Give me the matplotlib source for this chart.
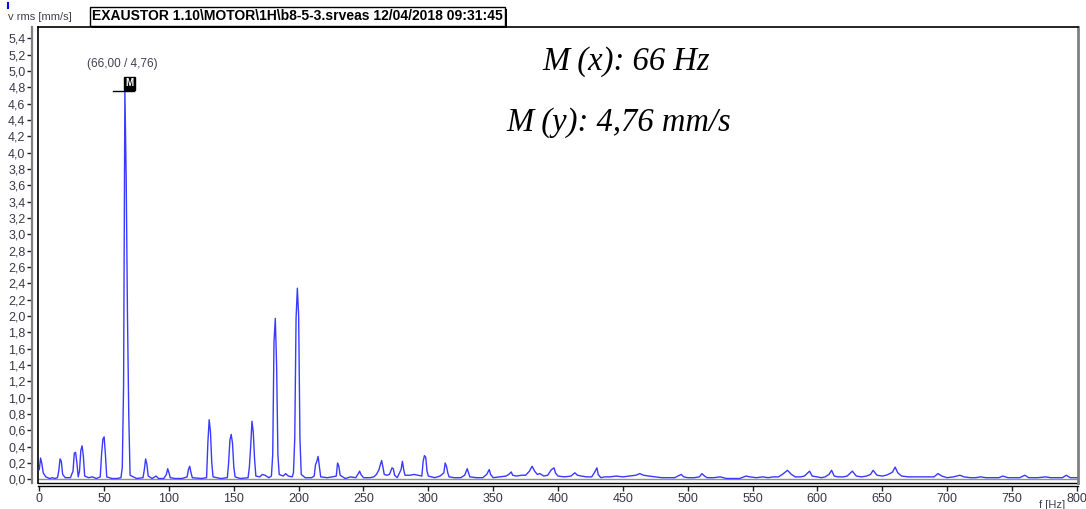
import numpy as np
import matplotlib
matplotlib.use('Agg')
import matplotlib.pyplot as plt
from matplotlib.patheffects import withSimplePatchShadow
from matplotlib.lines import Line2D

# spectrum (frequency in Hz, velocity rms in mm/s)
freq = [0, 1, 2, 3, 5, 8, 10, 12, 14, 15, 16, 17, 18, 20, 24, 26, 27, 28, 29, 30,
        31, 32, 33, 34, 35, 38, 41, 44, 47, 48, 49, 50, 51, 52, 56, 60, 63, 64, 65, 66,
        67, 68, 69, 70, 75, 80, 81, 82, 83, 84, 87, 90, 92, 96, 98, 99, 100, 101, 105, 110,
        114, 115, 116, 117, 118, 125, 129, 130, 131, 132, 133, 134, 140, 145, 146, 147, 148, 149, 150, 151,
        155, 161, 162, 163, 164, 165, 166, 167, 170, 172, 174, 177, 179, 180, 181, 182, 183, 184, 185, 188,
        190, 192, 195, 196, 197, 198, 199, 200, 201, 202, 205, 210, 212, 213, 214, 215, 216, 217, 222, 226,
        229, 230, 231, 232, 236, 240, 244, 246, 247, 248, 250, 255, 258, 260, 262, 263, 264, 265, 266, 268,
        270, 272, 273, 274, 276, 279, 280, 281, 282, 286, 289, 292, 295, 296, 297, 298, 299, 300, 305, 309,
        312, 313, 314, 315, 316, 320, 325, 328, 330, 331, 332, 337, 342, 345, 347, 348, 350, 355, 360, 362,
        364, 365, 368, 372, 375, 378, 380, 382, 384, 386, 389, 392, 395, 397, 398, 400, 405, 410, 413, 415,
        418, 422, 426, 428, 430, 431, 433, 436, 440, 445, 450, 455, 460, 463, 466, 470, 475, 480, 485, 490,
        495, 497, 500, 505, 509, 511, 513, 515, 520, 525, 530, 535, 540, 545, 548, 553, 558, 562, 566, 570,
        573, 577, 580, 583, 587, 590, 594, 596, 600, 603, 606, 609, 611, 613, 616, 620, 623, 627, 630, 634,
        638, 641, 643, 646, 650, 653, 656, 658, 660, 662, 665, 670, 675, 680, 685, 690, 693, 696, 700, 705,
        710, 713, 718, 722, 726, 730, 735, 740, 743, 747, 752, 756, 760, 763, 770, 776, 780, 785, 789, 792,
        795, 800]
amp = [0.12, 0.26, 0.19, 0.08, 0.03, 0.01, 0.02, 0.01, 0.02, 0.10, 0.25, 0.22, 0.06, 0.02, 0.02, 0.10, 0.32, 0.33, 0.20, 0.03,
       0.10, 0.35, 0.41, 0.28, 0.04, 0.02, 0.03, 0.01, 0.03, 0.30, 0.49, 0.52, 0.30, 0.03, 0.01, 0.01, 0.02, 0.15, 1.15, 4.76,
       3.70, 2.00, 0.78, 0.05, 0.01, 0.02, 0.12, 0.25, 0.18, 0.04, 0.01, 0.04, 0.01, 0.01, 0.06, 0.13, 0.08, 0.02, 0.01, 0.01,
       0.03, 0.12, 0.16, 0.08, 0.02, 0.01, 0.02, 0.45, 0.73, 0.58, 0.20, 0.03, 0.01, 0.02, 0.20, 0.48, 0.55, 0.44, 0.15, 0.03,
       0.01, 0.02, 0.15, 0.40, 0.71, 0.58, 0.25, 0.04, 0.03, 0.06, 0.05, 0.02, 0.04, 0.30, 1.69, 1.97, 1.40, 0.30, 0.06, 0.04,
       0.07, 0.04, 0.03, 0.08, 0.50, 1.97, 2.34, 2.00, 0.50, 0.06, 0.02, 0.02, 0.04, 0.18, 0.22, 0.28, 0.15, 0.03, 0.02, 0.03,
       0.04, 0.20, 0.16, 0.05, 0.01, 0.03, 0.02, 0.07, 0.10, 0.06, 0.02, 0.02, 0.03, 0.06, 0.12, 0.18, 0.23, 0.15, 0.06, 0.05,
       0.06, 0.14, 0.13, 0.05, 0.02, 0.12, 0.22, 0.12, 0.05, 0.05, 0.06, 0.05, 0.04, 0.22, 0.29, 0.27, 0.10, 0.04, 0.02, 0.04,
       0.08, 0.20, 0.16, 0.08, 0.03, 0.02, 0.02, 0.05, 0.13, 0.08, 0.03, 0.02, 0.02, 0.06, 0.12, 0.06, 0.02, 0.03, 0.04, 0.06,
       0.09, 0.05, 0.04, 0.05, 0.05, 0.10, 0.16, 0.10, 0.06, 0.07, 0.04, 0.05, 0.12, 0.14, 0.08, 0.04, 0.03, 0.04, 0.08, 0.05,
       0.04, 0.03, 0.03, 0.08, 0.14, 0.06, 0.02, 0.03, 0.03, 0.04, 0.03, 0.04, 0.05, 0.07, 0.05, 0.04, 0.03, 0.02, 0.02, 0.02,
       0.06, 0.03, 0.02, 0.02, 0.03, 0.07, 0.04, 0.02, 0.02, 0.03, 0.01, 0.01, 0.01, 0.04, 0.03, 0.02, 0.03, 0.02, 0.03, 0.03,
       0.06, 0.11, 0.06, 0.03, 0.03, 0.04, 0.10, 0.04, 0.03, 0.02, 0.03, 0.06, 0.11, 0.04, 0.03, 0.03, 0.04, 0.10, 0.04, 0.03,
       0.04, 0.06, 0.11, 0.05, 0.04, 0.05, 0.07, 0.09, 0.15, 0.08, 0.04, 0.03, 0.03, 0.03, 0.03, 0.03, 0.07, 0.04, 0.02, 0.03,
       0.05, 0.03, 0.02, 0.02, 0.03, 0.02, 0.02, 0.02, 0.04, 0.02, 0.02, 0.02, 0.05, 0.02, 0.02, 0.03, 0.02, 0.02, 0.02, 0.05,
       0.02, 0.02]

marker_f, marker_a = 66.00, 4.76
y_ticks = np.round(np.arange(0, 5.41, 0.2), 1)
x_ticks = np.arange(0, 801, 50)
title = r'EXAUSTOR 1.10\MOTOR\1H\b8-5-3.srveas 12/04/2018 09:31:45'

W, H = 1086, 509
fig = plt.figure(figsize=(W / 100, H / 100), dpi=100)
plt.rcParams['font.family'] = ['Liberation Sans', 'DejaVu Sans']

# axes box in pixels: left 38, right 1078, top 27, bottom 483
ax = fig.add_axes([38 / W, 1 - 483 / H, (1078 - 38) / W, (483 - 27) / H])
ax.set_xlim(-1.0, 801.0)
ax.set_ylim(-0.045, 5.538)

ax.plot(freq, amp, color='#3a3aff', lw=1.0, zorder=3)
ax.axhline(0, color='#909090', lw=1.0, zorder=2)

# marker crosshair
ax.plot([marker_f - 9, marker_f + 7], [marker_a, marker_a], color='black', lw=1.0, zorder=4)
ax.text(marker_f + 0.5, marker_a + 0.03, 'M', color='white', fontsize=7, fontweight='bold',
        ha='left', va='bottom', zorder=5,
        bbox=dict(boxstyle='square,pad=0.15', fc='black', ec='black'))
ax.text(marker_f - 2, marker_a + 0.25, '(66,00 / 4,76)', color='#404050', fontsize=8.5,
        ha='center', va='bottom')

# axis styling
ax.spines['left'].set_position(('outward', 4))
ax.spines['left'].set_color('#808080')
ax.spines['left'].set_linewidth(1.6)
ax.spines['bottom'].set_position(('outward', 2.5))
ax.spines['bottom'].set_color('black')
ax.spines['bottom'].set_linewidth(1.0)
ax.spines['top'].set_color('black')
ax.spines['top'].set_linewidth(1.2)
ax.spines['right'].set_color('#808080')
ax.spines['right'].set_linewidth(2.0)
ax.add_line(Line2D([0, 0], [0, 1], transform=ax.transAxes, color='black', lw=1.2, clip_on=False))
ax.add_line(Line2D([0, 1], [0, 0], transform=ax.transAxes, color='black', lw=1.0, clip_on=False))

ax.set_yticks(y_ticks)
ax.set_yticklabels([f'{v:.1f}'.replace('.', ',') for v in y_ticks])
ax.set_xticks(x_ticks)
ax.set_xticklabels([str(v) for v in x_ticks])
ax.tick_params(axis='both', labelsize=9, labelcolor='#38384a', color='#202020',
               length=3.5, width=1.0, pad=1.5)

# header texts
fig.text(8 / W, 1 - 17 / H, 'v rms [mm/s]', fontsize=8, color='#404050', ha='left', va='center')
fig.add_artist(Line2D([7.5 / W, 7.5 / W], [1 - 3 / H, 1 - 8 / H], color='blue', lw=1.5))
t = fig.text(92 / W, 1 - 16.5 / H, title, fontsize=10, fontweight='bold', color='black',
             ha='left', va='center',
             bbox=dict(boxstyle='square,pad=0.15', fc='white', ec='black', lw=1.0))
t.get_bbox_patch().set_path_effects([withSimplePatchShadow(offset=(1.5, -1.5),
                                                           shadow_rgbFace='black', alpha=1.0)])
fig.text(1052 / W, 1 - 505 / H, 'f [Hz]', fontsize=8, color='#404050', ha='center', va='center')

# marker readout
fig.text(626 / W, 1 - 62 / H, 'M (x): 66 Hz', fontsize=23.5, fontstyle='italic',
         family=['Liberation Serif', 'DejaVu Serif'], ha='center', va='center')
fig.text(619 / W, 1 - 123 / H, 'M (y): 4,76 mm/s', fontsize=23.5, fontstyle='italic',
         family=['Liberation Serif', 'DejaVu Serif'], ha='center', va='center')

fig.savefig('out.png', dpi=100)
